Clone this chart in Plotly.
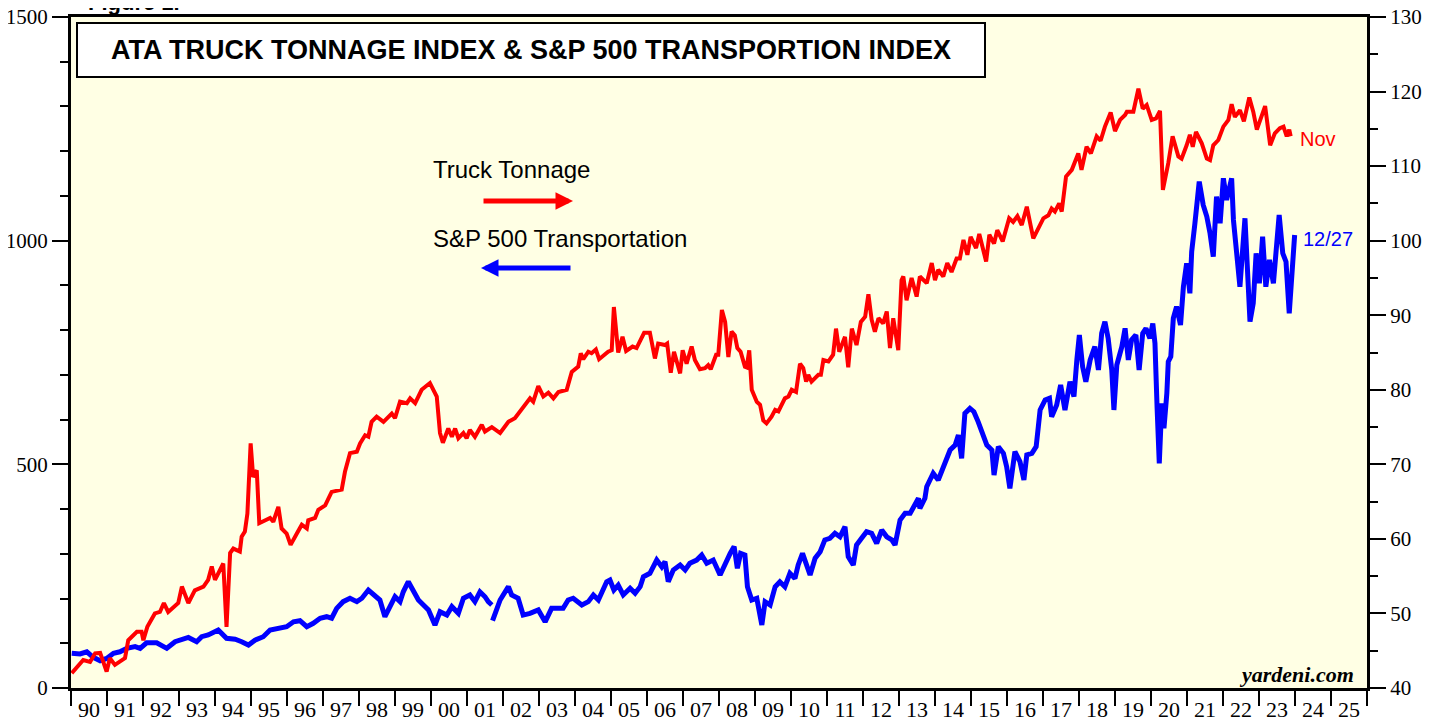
"""ATA Truck Tonnage Index vs S&P 500 Transportation Index (yardeni style)."""

import plotly.graph_objects as go

# Truck tonnage, monthly-ish readings (decimal year, index) -> right axis
TRUCK_T = [
    1990.02, 1990.34, 1990.53, 1990.67, 1990.81, 1990.99, 1991.08, 1991.22, 1991.50, 1991.59,
    1991.83, 1991.96, 1992.01, 1992.12, 1992.33, 1992.47, 1992.58, 1992.70, 1992.98, 1993.08,
    1993.26, 1993.44, 1993.68, 1993.81, 1993.91, 1994.00, 1994.23, 1994.32, 1994.42, 1994.51,
    1994.69, 1994.74, 1994.83, 1994.90, 1994.99, 1995.06, 1995.16, 1995.23, 1995.53, 1995.62,
    1995.76, 1995.85, 1995.99, 1996.10, 1996.27, 1996.41, 1996.55, 1996.59, 1996.78, 1996.87,
    1997.06, 1997.24, 1997.52, 1997.61, 1997.75, 1997.94, 1998.03, 1998.17, 1998.26, 1998.35,
    1998.49, 1998.68, 1998.91, 1999.00, 1999.14, 1999.33, 1999.42, 1999.56, 1999.74, 1999.97,
    2000.16, 2000.25, 2000.33, 2000.48, 2000.58, 2000.67, 2000.76, 2000.90, 2000.99, 2001.08,
    2001.22, 2001.41, 2001.50, 2001.69, 2001.92, 2002.15, 2002.33, 2002.52, 2002.75, 2002.84,
    2002.98, 2003.12, 2003.26, 2003.40, 2003.54, 2003.77, 2003.91, 2004.09, 2004.16, 2004.23,
    2004.37, 2004.46, 2004.58, 2004.67, 2004.92, 2005.02, 2005.08, 2005.20, 2005.32, 2005.42,
    2005.60, 2005.71, 2005.92, 2006.08, 2006.22, 2006.31, 2006.50, 2006.56, 2006.66, 2006.75,
    2006.83, 2006.92, 2006.99, 2007.10, 2007.24, 2007.33, 2007.47, 2007.61, 2007.70, 2007.77,
    2007.92, 2007.98, 2008.08, 2008.17, 2008.26, 2008.35, 2008.44, 2008.51, 2008.60, 2008.72,
    2008.77, 2008.84, 2008.91, 2009.05, 2009.14, 2009.23, 2009.32, 2009.46, 2009.56, 2009.65,
    2009.83, 2009.93, 2010.02, 2010.14, 2010.25, 2010.34, 2010.42, 2010.48, 2010.57, 2010.76,
    2010.83, 2010.90, 2011.04, 2011.17, 2011.25, 2011.34, 2011.50, 2011.59, 2011.69, 2011.82,
    2011.94, 2012.06, 2012.15, 2012.24, 2012.33, 2012.43, 2012.56, 2012.66, 2012.75, 2012.84,
    2012.98, 2013.07, 2013.12, 2013.21, 2013.35, 2013.49, 2013.58, 2013.77, 2013.91, 2014.00,
    2014.09, 2014.23, 2014.34, 2014.46, 2014.60, 2014.69, 2014.79, 2014.90, 2014.99, 2015.14,
    2015.23, 2015.42, 2015.51, 2015.64, 2015.73, 2015.88, 2016.06, 2016.17, 2016.29, 2016.41,
    2016.55, 2016.73, 2017.01, 2017.15, 2017.24, 2017.33, 2017.45, 2017.52, 2017.64, 2017.80,
    2017.98, 2018.07, 2018.21, 2018.33, 2018.49, 2018.60, 2018.72, 2018.88, 2019.00, 2019.14,
    2019.28, 2019.33, 2019.51, 2019.65, 2019.77, 2019.88, 2020.02, 2020.14, 2020.25, 2020.33,
    2020.48, 2020.60, 2020.76, 2020.85, 2020.99, 2021.08, 2021.16, 2021.25, 2021.41, 2021.55,
    2021.64, 2021.73, 2021.87, 2022.01, 2022.15, 2022.24, 2022.33, 2022.47, 2022.58, 2022.73,
    2022.84, 2022.94, 2023.17, 2023.31, 2023.44, 2023.58, 2023.68, 2023.77, 2023.84, 2023.88,
]
TRUCK_V = [
    42.0, 43.75, 43.5, 44.65, 44.7, 42.2, 44.0, 43.1, 44.0, 46.4,
    47.55, 47.55, 46.4, 48.2, 50.0, 50.2, 51.4, 50.2, 51.4, 53.6,
    51.4, 53.1, 53.6, 54.5, 56.3, 54.5, 56.7, 48.2, 58.1, 58.7,
    58.3, 60.3, 61.0, 63.4, 72.8, 68.3, 69.2, 62.1, 62.8, 62.3,
    64.3, 61.4, 60.7, 59.2, 60.7, 61.9, 61.4, 62.5, 62.8, 63.9,
    64.5, 66.3, 66.6, 69.0, 71.5, 71.7, 72.8, 73.9, 73.7, 75.7,
    76.4, 75.7, 76.8, 76.2, 78.4, 78.2, 78.85, 78.2, 80.0, 80.9,
    79.1, 74.2, 72.9, 74.8, 73.7, 74.8, 73.5, 74.2, 73.5, 74.6,
    73.7, 75.3, 74.4, 75.0, 74.2, 75.7, 76.2, 77.5, 78.85, 78.4,
    80.5, 79.1, 79.6, 78.85, 79.7, 80.0, 82.4, 83.1, 84.9, 84.1,
    85.1, 84.9, 85.4, 84.1, 85.1, 85.3, 91.1, 85.0, 87.1, 85.2,
    85.8, 85.6, 87.65, 87.65, 84.2, 86.2, 86.0, 86.2, 82.3, 85.1,
    83.5, 82.2, 85.3, 83.5, 85.8, 84.0, 82.75, 82.9, 83.3, 82.75,
    84.7, 84.7, 90.7, 89.1, 84.4, 87.8, 87.3, 85.6, 85.1, 83.1,
    83.0, 85.3, 80.0, 78.4, 78.0, 75.9, 75.5, 76.4, 77.3, 77.1,
    78.85, 79.1, 80.0, 79.7, 83.5, 82.9, 81.1, 82.0, 81.1, 82.0,
    82.0, 84.0, 83.8, 84.7, 88.2, 85.1, 87.1, 83.0, 88.2, 86.0,
    89.1, 89.8, 92.8, 89.4, 87.8, 89.6, 88.9, 90.5, 85.6, 89.6,
    85.3, 94.7, 95.2, 92.0, 95.0, 92.5, 95.2, 94.3, 97.0, 94.7,
    96.1, 95.2, 97.0, 95.8, 97.6, 97.6, 100.1, 98.1, 100.5, 99.0,
    100.9, 97.2, 100.8, 99.6, 101.4, 99.9, 103.0, 102.5, 103.3, 102.1,
    104.55, 100.3, 103.0, 103.4, 104.3, 103.9, 105.0, 103.9, 108.6, 109.5,
    111.7, 109.5, 112.6, 111.7, 114.0, 113.4, 115.3, 117.2, 114.7, 116.2,
    116.85, 117.3, 117.3, 120.4, 117.7, 118.2, 116.2, 116.4, 117.4, 106.8,
    110.4, 114.0, 111.3, 111.0, 112.8, 114.2, 112.6, 114.6, 113.05, 111.0,
    110.8, 112.8, 113.5, 115.3, 116.2, 118.3, 116.6, 117.5, 116.0, 119.2,
    117.3, 114.9, 118.05, 112.8, 114.4, 115.1, 115.3, 114.0, 114.9, 114.0,
]

# S&P 500 Transportation index readings (decimal year, index) -> left axis
# None marks the gap in the series after the Sept 2001 market closure
SPX_T = [
    1990.02, 1990.25, 1990.44, 1990.62, 1990.81, 1990.99, 1991.18, 1991.36, 1991.55, 1991.78,
    1991.92, 1992.10, 1992.38, 1992.66, 1992.89, 1993.12, 1993.26, 1993.49, 1993.63, 1993.81,
    1994.09, 1994.32, 1994.56, 1994.74, 1994.93, 1995.11, 1995.34, 1995.53, 1995.76, 1995.99,
    1996.18, 1996.36, 1996.55, 1996.73, 1996.92, 1997.10, 1997.24, 1997.38, 1997.56, 1997.75,
    1997.94, 1998.08, 1998.26, 1998.44, 1998.58, 1998.72, 1998.86, 1999.00, 1999.14, 1999.23,
    1999.37, 1999.51, 1999.65, 1999.79, 1999.93, 2000.11, 2000.25, 2000.44, 2000.58, 2000.76,
    2000.90, 2001.08, 2001.22, 2001.36, 2001.50, 2001.59, 2001.69, 2001.70, 2001.71, 2001.92,
    2002.15, 2002.24, 2002.42, 2002.56, 2002.75, 2002.98, 2003.17, 2003.35, 2003.54, 2003.67,
    2003.81, 2003.95, 2004.19, 2004.37, 2004.51, 2004.65, 2004.88, 2004.97, 2005.08, 2005.20,
    2005.34, 2005.53, 2005.67, 2005.81, 2005.90, 2006.08, 2006.27, 2006.41, 2006.50, 2006.59,
    2006.73, 2006.92, 2007.06, 2007.19, 2007.38, 2007.52, 2007.66, 2007.84, 2008.03, 2008.17,
    2008.31, 2008.42, 2008.51, 2008.60, 2008.72, 2008.79, 2008.91, 2009.05, 2009.12, 2009.19,
    2009.28, 2009.42, 2009.56, 2009.69, 2009.83, 2009.97, 2010.11, 2010.20, 2010.32, 2010.44,
    2010.53, 2010.67, 2010.81, 2010.94, 2011.08, 2011.22, 2011.36, 2011.50, 2011.59, 2011.73,
    2011.82, 2011.96, 2012.10, 2012.24, 2012.38, 2012.52, 2012.66, 2012.80, 2012.89, 2013.03,
    2013.17, 2013.31, 2013.44, 2013.54, 2013.58, 2013.72, 2013.77, 2013.81, 2013.95, 2014.09,
    2014.23, 2014.42, 2014.56, 2014.65, 2014.74, 2014.83, 2014.97, 2015.08, 2015.20, 2015.30,
    2015.44, 2015.58, 2015.64, 2015.76, 2015.90, 2015.99, 2016.08, 2016.22, 2016.36, 2016.47,
    2016.55, 2016.69, 2016.81, 2016.87, 2016.92, 2017.06, 2017.18, 2017.24, 2017.38, 2017.49,
    2017.61, 2017.75, 2017.86, 2017.94, 2018.01, 2018.10, 2018.19, 2018.31, 2018.44, 2018.54,
    2018.63, 2018.72, 2018.81, 2018.91, 2018.97, 2019.05, 2019.19, 2019.28, 2019.37, 2019.46,
    2019.58, 2019.67, 2019.77, 2019.86, 2019.97, 2020.05, 2020.11, 2020.17, 2020.23, 2020.30,
    2020.36, 2020.44, 2020.48, 2020.55, 2020.62, 2020.71, 2020.82, 2020.90, 2020.99, 2021.08,
    2021.13, 2021.22, 2021.34, 2021.45, 2021.55, 2021.64, 2021.73, 2021.82, 2021.92, 2022.01,
    2022.10, 2022.24, 2022.29, 2022.38, 2022.47, 2022.61, 2022.75, 2022.84, 2022.92, 2023.01,
    2023.10, 2023.19, 2023.29, 2023.40, 2023.49, 2023.56, 2023.66, 2023.75, 2023.84, 2023.91,
    2023.99,
]
SPX_V = [
    77.6, 76, 81, 68.6, 61, 66, 77.6, 81, 88.7, 92.4,
    88.7, 101, 101, 88.7, 103.5, 109, 113, 103.5, 114.7, 118.5,
    129.7, 111, 109, 103.5, 96, 107, 114.7, 129.7, 133.5, 137,
    148, 150.5, 137, 144.6, 156, 159.4, 156, 178, 193, 200.6,
    193, 200.6, 219, 208, 196.7, 159.4, 181.8, 204, 193, 215,
    237.6, 215, 196.7, 185.6, 174.4, 140.8, 170.6, 163, 181.8, 167,
    200.6, 208, 193, 215, 204, 193, 185.6, None, 150.5, 196.7,
    226.5, 208, 200.6, 163, 167, 174.4, 148, 178, 178, 178,
    196.7, 200.6, 185.6, 193, 208, 196.7, 237.6, 241.4, 219, 230,
    208, 223, 211.7, 226.5, 248.8, 256.4, 286, 271, 282.4, 237.6,
    263.8, 275, 263.8, 278.8, 286, 297.3, 278.8, 286, 252.6, 278.8,
    301, 316, 267.6, 301, 297.3, 226.5, 196.7, 200.6, 174.4, 140.8,
    193, 185.6, 226.5, 237.6, 226.5, 256.4, 245, 275, 301, 267.6,
    252.6, 290, 304.7, 331, 334.7, 345.9, 338, 360.6, 293.5, 275,
    319.7, 334.7, 349.4, 345.9, 323.5, 353, 338, 331, 319.7, 375.6,
    390.5, 390.5, 413, 424, 401.7, 424, 450, 457.6, 480, 465,
    491, 532, 543, 565.6, 513.5, 614, 625, 617.7, 595, 573,
    543, 532, 476, 539.5, 524.7, 494.7, 446.4, 528.3, 506, 465,
    521, 524.7, 539.5, 584, 621.5, 643.9, 647.7, 606.5, 632.7, 677.4,
    621.5, 684.8, 651.3, 733.3, 789.2, 718.3, 684.8, 733.3, 763, 711,
    793, 818.9, 781.8, 711, 621.5, 722, 763, 804, 733.3, 778,
    789.2, 711, 793, 804, 781.8, 815, 770.6, 625, 502.3, 636.5,
    580.6, 658.8, 729.5, 740.7, 826.5, 852.5, 811.5, 897, 949.4, 882.4,
    975.4, 1039, 1132, 1080, 1054, 1016.5, 964.3, 1098.4, 1039, 1139.5,
    1091, 1139.5, 1046.3, 971.8, 897, 1050, 819, 860, 971.8, 904.8,
    1009, 897, 956.9, 904.8, 983, 1057.5, 971.8, 953, 837.7, 927,
    1012.7,
]

YEARS = list(range(1990, 2026))
YEAR_LABELS = [f"{y % 100:02d}" for y in YEARS]

RED = "#ff0000"
BLUE = "#0000ff"
BG = "#ffffe4"
SERIF = "Liberation Serif, Times New Roman, serif"
SANS = "Arial, Liberation Sans, sans-serif"

# the page puts the figure 8px in from the top-left corner
OFF = 8
# plot area as seen on the page, in pixels
L, R, T, B = 71, 1367, 17, 688
PW, PH = R - L, B - T
W, H = 1437, 719


def px(x):
    return (x - L) / PW


def py(y):
    return (B - y) / PH


fig = go.Figure()

fig.add_trace(
    go.Scatter(
        x=SPX_T,
        y=SPX_V,
        mode="lines",
        name="S&P 500 Transportation",
        line=dict(color=BLUE, width=5),
        connectgaps=False,
        yaxis="y",
    )
)

fig.add_trace(
    go.Scatter(
        x=TRUCK_T,
        y=TRUCK_V,
        mode="lines",
        name="Truck Tonnage",
        line=dict(color=RED, width=4),
        yaxis="y2",
    )
)

# title box
fig.add_shape(
    type="rect",
    xref="paper", yref="paper",
    x0=px(77), x1=px(985), y0=py(77), y1=py(23),
    line=dict(color="black", width=2),
    fillcolor="white",
    layer="above",
)


def label(x, y, text, size, color="black", family=SANS, xanchor="left", yanchor="middle"):
    return dict(
        x=px(x), y=py(y), xref="paper", yref="paper",
        xanchor=xanchor, yanchor=yanchor,
        text=text, showarrow=False,
        font=dict(family=family, size=size, color=color),
    )


annotations = [
    label(531, 50, "<b>ATA TRUCK TONNAGE INDEX & S&P 500 TRANSPORTION INDEX</b>", 27,
          xanchor="center"),
    label(431, 170, "Truck Tonnage", 24),
    label(431, 239, "S&P 500 Transportation", 24),
    # legend arrows
    dict(
        x=px(573), y=py(201), xref="paper", yref="paper",
        ax=-91, ay=0, text="", showarrow=True,
        arrowhead=2, arrowsize=0.7, arrowwidth=5, arrowcolor=RED,
    ),
    dict(
        x=px(481), y=py(268), xref="paper", yref="paper",
        ax=91, ay=0, text="", showarrow=True,
        arrowhead=2, arrowsize=0.7, arrowwidth=5, arrowcolor=BLUE,
    ),
    label(1298, 139, "Nov", 20, color=RED),
    label(1301, 239, "12/27", 20, color=BLUE),
    label(1356, 674, "<b><i>yardeni.com</i></b>", 22, family=SERIF, xanchor="right"),
    # figure caption, cut off by the top of the page
    label(86, 17, "<b>Figure 1.</b>", 22, yanchor="bottom"),
]

fig.update_layout(
    width=W,
    height=H,
    margin=dict(l=L - OFF, r=W - R + OFF, t=T - OFF, b=H - B + OFF, autoexpand=False),
    paper_bgcolor="white",
    plot_bgcolor=BG,
    showlegend=False,
    annotations=annotations,
    font=dict(family=SERIF, size=21, color="black"),
    xaxis=dict(
        range=[1990, 2026],
        automargin=False,
        tickmode="array",
        tickvals=[y + 0.5 for y in YEARS],
        ticktext=YEAR_LABELS,
        ticks="",
        ticklabelstandoff=0,
        ticklabeloverflow="allow",
        tickfont=dict(family=SERIF, size=22, color="black"),
        showgrid=False,
        zeroline=False,
        showline=True,
        linecolor="black",
        linewidth=3,
        mirror=True,
        minor=dict(
            tickmode="linear", tick0=1990, dtick=1,
            ticks="outside", ticklen=15, tickwidth=2, tickcolor="black",
            showgrid=False,
        ),
    ),
    yaxis=dict(
        range=[0, 1500],
        automargin=False,
        tickmode="linear", tick0=0, dtick=500,
        ticks="outside", ticklen=16, tickwidth=1.5, tickcolor="black",
        ticklabeloverflow="allow",
        tickfont=dict(family=SERIF, size=21, color="black"),
        showgrid=False,
        zeroline=False,
        showline=True,
        linecolor="black",
        linewidth=3,
        mirror=True,
        minor=dict(
            dtick=100, ticks="outside", ticklen=8, tickwidth=1.5,
            tickcolor="black", showgrid=False,
        ),
    ),
    yaxis2=dict(
        range=[40, 130],
        automargin=False,
        overlaying="y",
        side="right",
        tickmode="linear", tick0=40, dtick=10,
        ticks="outside", ticklen=16, tickwidth=1.5, tickcolor="black",
        ticklabeloverflow="allow",
        tickfont=dict(family=SERIF, size=21, color="black"),
        showgrid=False,
        zeroline=False,
        showline=True,
        linecolor="black",
        linewidth=3,
        minor=dict(
            dtick=5, ticks="outside", ticklen=8, tickwidth=1.5,
            tickcolor="black", showgrid=False,
        ),
    ),
)

fig.write_html("out.html")
